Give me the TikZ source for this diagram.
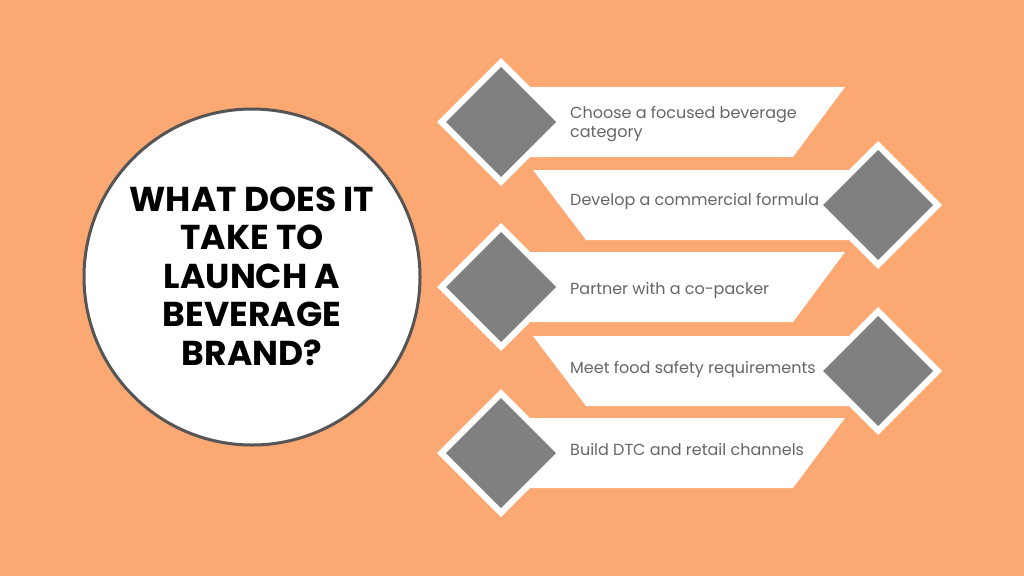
\documentclass[tikz,border=0pt]{standalone}
\usepackage{fontspec}
\setmainfont{Poppins}
\definecolor{bg}{HTML}{FBA872}
\definecolor{dia}{HTML}{808080}
\definecolor{txt}{HTML}{666666}
\definecolor{ring}{HTML}{555555}
\tikzset{
  banner/.style={fill=white},
  dwhite/.style={fill=white},
  dgrey/.style={fill=dia},
  steplabel/.style={anchor=west, text=txt, font=\fontsize{16}{19}\selectfont, align=left, inner sep=0pt},
}
\begin{document}
\begin{tikzpicture}[x=1pt,y=-1pt]
\fill[bg] (0,0) rectangle (1024,576);
\useasboundingbox (0,0) rectangle (1024,576);
% hub circle
\node[circle, draw=ring, line width=3pt, fill=white, minimum size=336pt, inner sep=0pt] (hub) at (252,277) {};
\node[font=\bfseries\fontsize{34.5}{38.5}\selectfont, align=center, text=black] (title) at (252,276)
  {WHAT DOES IT\\TAKE TO\hspace*{16pt}\\LAUNCH A\\BEVERAGE\\BRAND?};
% left rows
\foreach \c/\n in {122/1, 287/3, 453/5} {
  \fill[banner] (501,\c-35) -- (845,\c-35) -- (793,\c+35) -- (501,\c+35) -- cycle;
  \coordinate (d\n) at (501,\c);
  \fill[dwhite] (501-64,\c) -- (501,\c-64) -- (501+64,\c) -- (501,\c+64) -- cycle;
  \fill[dgrey] (501-55,\c) -- (501,\c-55) -- (501+55,\c) -- (501,\c+55) -- cycle;
}
% right rows
\foreach \c/\n in {205/2, 371/4} {
  \fill[banner] (533,\c-35) -- (878,\c-35) -- (878,\c+35) -- (586,\c+35) -- cycle;
  \coordinate (d\n) at (878,\c);
  \fill[dwhite] (878-64,\c) -- (878,\c-64) -- (878+64,\c) -- (878,\c+64) -- cycle;
  \fill[dgrey] (878-55,\c) -- (878,\c-55) -- (878+55,\c) -- (878,\c+55) -- cycle;
}
\node[steplabel] (s1) at (570,124) {Choose a focused beverage\\category};
\node[steplabel] (s2) at (570,201) {Develop a commercial formula};
\node[steplabel] (s3) at (570,290) {Partner with a co-packer};
\node[steplabel] (s4) at (570,369) {Meet food safety requirements};
\node[steplabel] (s5) at (570,449) {Build DTC and retail channels};
\end{tikzpicture}
\end{document}
